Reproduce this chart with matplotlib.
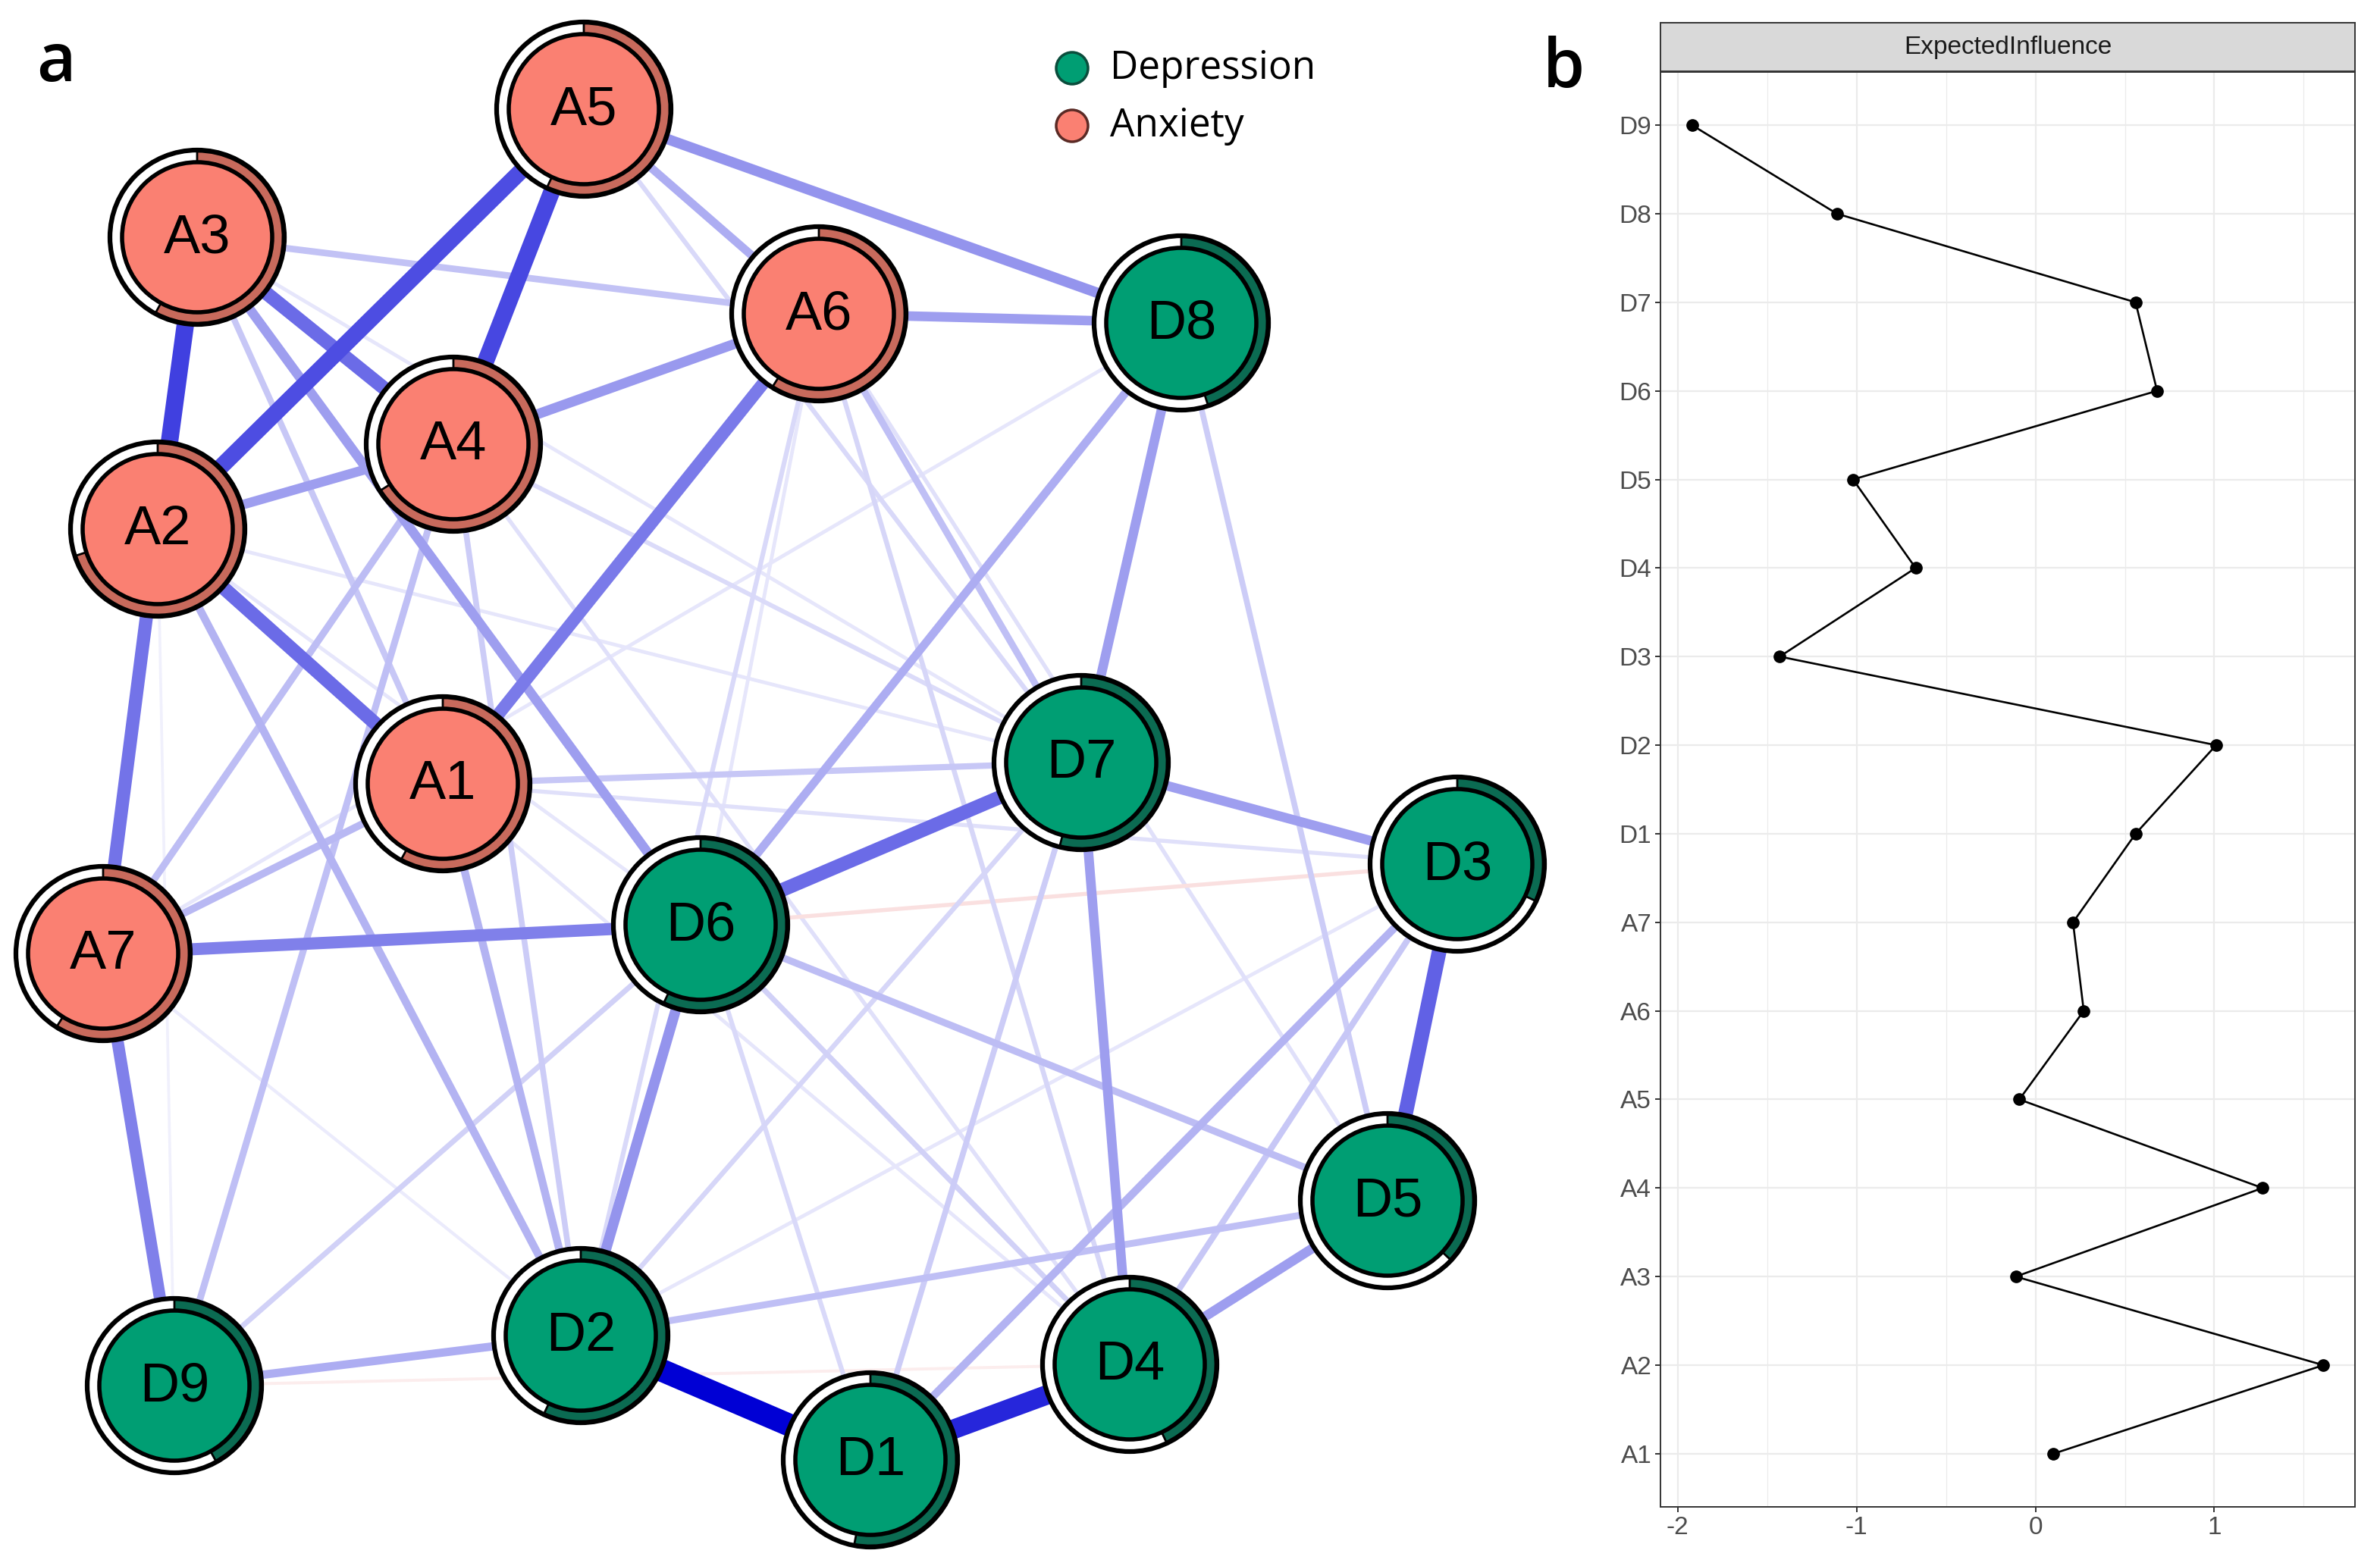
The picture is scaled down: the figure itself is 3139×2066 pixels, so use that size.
import matplotlib
matplotlib.use('Agg')
import matplotlib.pyplot as plt
from matplotlib.patches import Circle, Wedge
import numpy as np

# node layout (pixel coords of the picture, y downwards)
nodes = ['A1', 'A2', 'A3', 'A4', 'A5', 'A6', 'A7',
         'D1', 'D2', 'D3', 'D4', 'D5', 'D6', 'D7', 'D8', 'D9']
node_x = [584, 208, 260, 598, 770, 1080, 136,
          1148, 766, 1922, 1490, 1830, 924, 1426, 1558, 230]
node_y = [1034, 698, 313, 586, 144, 414, 1258,
          1926, 1762, 1140, 1800, 1584, 1220, 1006, 426, 1828]
# predictability (pie ring share)
pred = [0.58, 0.70, 0.58, 0.66, 0.57, 0.59, 0.59,
        0.53, 0.57, 0.32, 0.43, 0.37, 0.57, 0.54, 0.45, 0.42]

# partial correlation edges (positive)
edges = [
    ('D2', 'D1', 1.0), ('D1', 'D4', 0.85), ('A2', 'A3', 0.75), ('A4', 'A5', 0.72),
    ('A2', 'A5', 0.70), ('D3', 'D5', 0.62), ('A3', 'A4', 0.58), ('D7', 'D6', 0.58),
    ('A2', 'A1', 0.58), ('A1', 'A6', 0.52), ('A2', 'A7', 0.55), ('A7', 'D9', 0.50),
    ('A7', 'D6', 0.50), ('A5', 'D8', 0.42), ('D6', 'D2', 0.42), ('A4', 'A6', 0.40),
    ('A2', 'A4', 0.38), ('D7', 'D8', 0.38), ('A6', 'D8', 0.38), ('D7', 'D3', 0.38),
    ('D7', 'D4', 0.38), ('A3', 'D6', 0.38), ('D5', 'D4', 0.38), ('A5', 'A6', 0.32),
    ('D9', 'D2', 0.32), ('D8', 'D6', 0.32), ('D3', 'D1', 0.30), ('A1', 'D2', 0.30),
    ('A2', 'D2', 0.30), ('A7', 'A1', 0.28), ('A7', 'A4', 0.26), ('A4', 'D9', 0.25),
    ('D6', 'D5', 0.26), ('D5', 'D2', 0.25), ('A3', 'A6', 0.24), ('A6', 'D7', 0.25),
    ('A1', 'D7', 0.22), ('A3', 'A1', 0.22), ('D8', 'D5', 0.20), ('D3', 'D4', 0.22),
    ('D7', 'D1', 0.20), ('D9', 'D6', 0.18), ('A4', 'D2', 0.20), ('A6', 'D4', 0.16),
    ('A6', 'D2', 0.15), ('D7', 'D2', 0.16), ('D6', 'D4', 0.18), ('A5', 'D7', 0.15),
    ('A4', 'D7', 0.14), ('A3', 'A7', 0.14), ('A6', 'D5', 0.12), ('A1', 'D3', 0.12),
    ('D6', 'D1', 0.15), ('A2', 'D7', 0.10), ('A3', 'D7', 0.10), ('A4', 'D4', 0.12),
    ('A2', 'D6', 0.10), ('D8', 'A7', 0.10), ('D3', 'D2', 0.10), ('A7', 'D2', 0.08),
    ('A2', 'D9', 0.06), ('A6', 'D6', 0.10), ('A1', 'D4', 0.10),
]
neg_edges = [('D6', 'D3', 0.12), ('D9', 'D4', 0.07)]

# expected influence (right panel)
ei_labels = ['A1', 'A2', 'A3', 'A4', 'A5', 'A6', 'A7',
             'D1', 'D2', 'D3', 'D4', 'D5', 'D6', 'D7', 'D8', 'D9']
ei_values = [0.10, 1.61, -0.11, 1.27, -0.09, 0.27, 0.21,
             0.56, 1.01, -1.43, -0.67, -1.02, 0.68, 0.56, -1.11, -1.92]

green = '#009E73'
salmon = '#FA8072'
green_dark = '#0B6B52'
salmon_dark = '#C86A5C'
blue = np.array([0, 0, 213]) / 255
red = np.array([213, 0, 0]) / 255

W, H = 3139, 2066
fig = plt.figure(figsize=(W / 100, H / 100), dpi=100)

# ---- network panel ----
ax = fig.add_axes([0, 0, 2080 / W, 1])
ax.set_xlim(0, 2080)
ax.set_ylim(H, 0)
ax.axis('off')

pos = {n: (x, y) for n, x, y in zip(nodes, node_x, node_y)}


def edge_col(w, base):
    return tuple((1 - w) * np.ones(3) + w * base)


allE = [(a, b, w, blue) for a, b, w in edges] + [(a, b, w, red) for a, b, w in neg_edges]
allE.sort(key=lambda e: e[2])
for i, (a, b, w, base) in enumerate(allE):
    xa, ya = pos[a]
    xb, yb = pos[b]
    ax.plot([xa, xb], [ya, yb], color=edge_col(w, base), lw=0.72 * (2 + 28 * w),
            solid_capstyle='butt', zorder=1 + i * 0.01)

R_out, R_in = 115, 99
for n, p in zip(nodes, pred):
    x, y = pos[n]
    fill = salmon if n.startswith('A') else green
    dark = salmon_dark if n.startswith('A') else green_dark
    ax.add_patch(Circle((x, y), R_out, facecolor='white', edgecolor='black', lw=4.5, zorder=5))
    ax.add_patch(Wedge((x, y), R_out - 2, -90, -90 + 360 * p, width=R_out - R_in - 2,
                       facecolor=dark, edgecolor='black', lw=2, zorder=6))
    ax.add_patch(Circle((x, y), R_in, facecolor=fill, edgecolor='black', lw=4, zorder=7))
    ax.text(x, y + 2, n, ha='center', va='center', fontsize=52,
            family='Liberation Sans', zorder=8)

# legend
for yy, col, ec, lab in [(90, green, '#0B4D3C', 'Depression'), (166, salmon, '#5A2A25', 'Anxiety')]:
    ax.add_patch(Circle((1414, yy), 21, facecolor=col, edgecolor=ec, lw=2.5, zorder=9))
    ax.text(1464, yy, lab, ha='left', va='center', fontsize=37, family='Open Sans', zorder=9)

fig.text(74 / W, 1 - 84 / H, 'a', ha='center', va='center', fontsize=64,
         family='Open Sans', fontweight='semibold')
fig.text(2062 / W, 1 - 92 / H, 'b', ha='center', va='center', fontsize=64,
         family='Open Sans', fontweight='semibold')

# ---- expected influence panel ----
left, right, top, bottom = 2190, 3106, 95, 1988
ax2 = fig.add_axes([left / W, 1 - bottom / H, (right - left) / W, (bottom - top) / H])
yy = np.arange(len(ei_labels))
ax2.plot(ei_values, yy, color='black', lw=1.9, marker='o', markersize=11, zorder=3)
rng = max(ei_values) - min(ei_values)
ax2.set_xlim(min(ei_values) - 0.05 * rng, max(ei_values) + 0.05 * rng)
ax2.set_ylim(-0.6, len(ei_labels) - 1 + 0.6)
ax2.set_yticks(yy)
ax2.set_yticklabels(ei_labels)
ax2.set_xticks([-2, -1, 0, 1])
ax2.set_xticklabels(['-2', '-1', '0', '1'])
ax2.set_xticks([-1.5, -0.5, 0.5, 1.5], minor=True)
ax2.grid(True, which='major', color='#EBEBEB', lw=1.6, zorder=0)
ax2.grid(True, which='minor', axis='x', color='#EBEBEB', lw=0.9, zorder=0)
ax2.set_axisbelow(True)
ax2.tick_params(axis='both', which='major', colors='#333333', labelcolor='#4D4D4D',
                labelsize=24, length=5, width=1.4)
ax2.tick_params(axis='x', which='minor', length=0)
for lab in ax2.get_xticklabels() + ax2.get_yticklabels():
    lab.set_family('Liberation Sans')
for s in ax2.spines.values():
    s.set_color('#333333')
    s.set_linewidth(1.4)

# facet strip
axs = fig.add_axes([left / W, 1 - 94 / H, (right - left) / W, (94 - 30) / H])
axs.set_facecolor('#D9D9D9')
axs.set_xticks([])
axs.set_yticks([])
for s in axs.spines.values():
    s.set_color('#333333')
    s.set_linewidth(1.4)
axs.text(0.5, 0.5, 'ExpectedInfluence', ha='center', va='center', fontsize=24,
         color='#1A1A1A', family='Liberation Sans', transform=axs.transAxes)

fig.savefig('out.png', dpi=100)
